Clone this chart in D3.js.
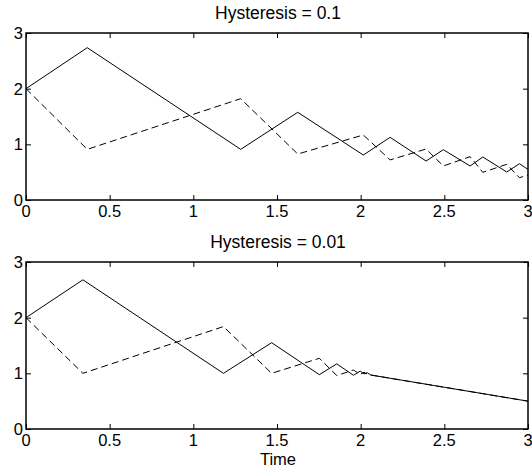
<!DOCTYPE html>
<html>
<head>
<meta charset="utf-8">
<script src="https://cdn.jsdelivr.net/npm/d3@7"></script>
<style>
  html, body { margin: 0; padding: 0; background: #fff; }
  svg { display: block; }
  text { font-family: "Liberation Sans", Arial, Helvetica, sans-serif; fill: #000; }
</style>
</head>
<body>
<svg id="chart" width="532" height="476"></svg>
<script>
// ---- data ----
const xTicks = [0, 0.5, 1, 1.5, 2, 2.5, 3];
const yTicks = [0, 1, 2, 3];
const titles = ["Hysteresis = 0.1", "Hysteresis = 0.01"];
const xLabel = "Time";

const topTime   = [0, 0.366, 1.283, 1.624, 2.016, 2.176, 2.391, 2.494, 2.654, 2.73, 2.873, 2.949, 3.0];
const topSolid  = [2, 2.736, 0.91, 1.575, 0.808, 1.126, 0.70, 0.904, 0.611, 0.772, 0.503, 0.652, 0.55];
const topDashed = [2, 0.91, 1.82, 0.826, 1.168, 0.72, 0.916, 0.611, 0.778, 0.497, 0.641, 0.40, 0.45];

const botTime   = [0, 0.34, 1.18, 1.468, 1.753, 1.857, 1.957, 1.997, 2.02, 2.04, 2.06, 3.0];
const botSolid  = [2, 2.68, 1.0, 1.55, 0.976, 1.17, 0.965, 1.04, 0.99, 1.01, 0.97, 0.5];
const botDashed = [2, 1.0, 1.84, 1.0, 1.27, 0.96, 1.06, 0.98, 1.02, 0.985, 0.97, 0.5];

// ---- layout ----
const svg = d3.select("#chart");
const left = 26, right = 528;
const panels = [
  { top: 33, bottom: 200, time: topTime, solid: topSolid, dashed: topDashed, title: titles[0] },
  { top: 262, bottom: 429, time: botTime, solid: botSolid, dashed: botDashed, title: titles[1] }
];
const FS = 16.5;
const TFS = 17.5;

panels.forEach((p, i) => {
  const x = d3.scaleLinear().domain([0, 3]).range([left, right]);
  const y = d3.scaleLinear().domain([0, 3]).range([p.bottom, p.top]);
  const g = svg.append("g");

  const line = d3.line().x(d => x(d[0])).y(d => y(d[1]));
  const solidPts = p.time.map((t, k) => [t, p.solid[k]]);
  const dashedPts = p.time.map((t, k) => [t, p.dashed[k]]);

  g.append("path").attr("d", line(dashedPts))
    .attr("fill", "none").attr("stroke", "#000").attr("stroke-width", 1)
    .attr("stroke-dasharray", "7,4");
  g.append("path").attr("d", line(solidPts))
    .attr("fill", "none").attr("stroke", "#000").attr("stroke-width", 1);

  const tl = 5;
  const xAxisB = d3.axisBottom(x).tickValues(xTicks).tickSize(-tl).tickFormat("");
  const xAxisT = d3.axisTop(x).tickValues(xTicks).tickSize(-tl).tickFormat("");
  const yAxisL = d3.axisLeft(y).tickValues(yTicks).tickSize(-tl).tickFormat("");
  const yAxisR = d3.axisRight(y).tickValues(yTicks).tickSize(-tl).tickFormat("");
  [[xAxisB, `translate(0,${p.bottom})`], [xAxisT, `translate(0,${p.top})`],
   [yAxisL, `translate(${left},0)`], [yAxisR, `translate(${right},0)`]].forEach(([ax, tr]) => {
    const a = g.append("g").attr("transform", tr).call(ax);
    a.select(".domain").remove();
    a.selectAll("line").attr("stroke", "#000").attr("stroke-width", 1);
  });

  g.append("rect").attr("x", left).attr("y", p.top)
    .attr("width", right - left).attr("height", p.bottom - p.top)
    .attr("fill", "none").attr("stroke", "#000").attr("stroke-width", 1.5);

  g.selectAll(".xl").data(xTicks).enter().append("text")
    .attr("x", d => x(d)).attr("y", p.bottom + 17)
    .attr("text-anchor", "middle").attr("font-size", FS)
    .text(d => d3.format("")(d));
  g.selectAll(".yl").data(yTicks).enter().append("text")
    .attr("x", left - 3).attr("y", d => y(d)).attr("dy", "0.36em")
    .attr("text-anchor", "end").attr("font-size", FS)
    .text(d => d);

  g.append("text").attr("x", (left + right) / 2 + 1).attr("y", p.top - 14)
    .attr("text-anchor", "middle").attr("font-size", TFS).text(p.title);
});

svg.append("text").attr("x", (left + right) / 2 + 1).attr("y", 465)
  .attr("text-anchor", "middle").attr("font-size", FS).text(xLabel);
</script>
</body>
</html>
